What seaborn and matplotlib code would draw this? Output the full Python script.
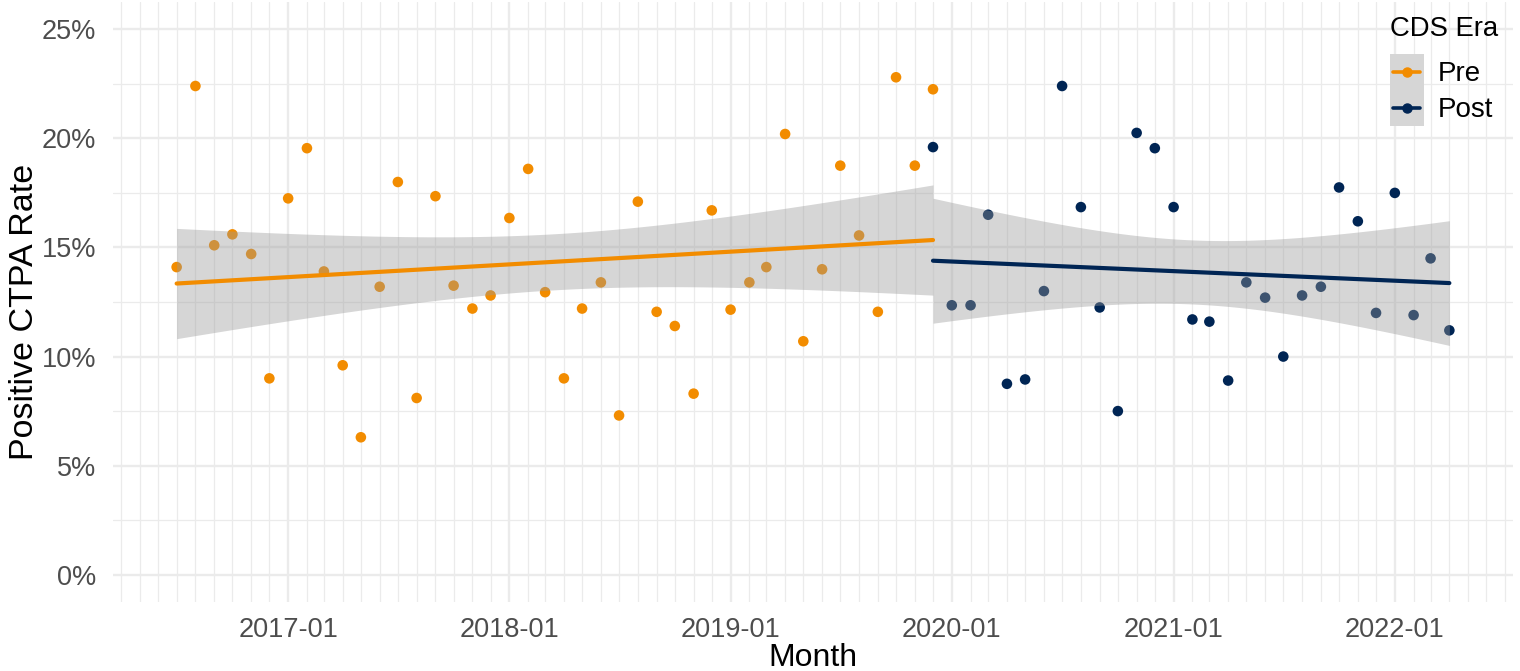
import numpy as np
import pandas as pd
import matplotlib
matplotlib.use("Agg")
import matplotlib.pyplot as plt
import matplotlib.dates as mdates
from matplotlib.patches import Rectangle
from matplotlib.lines import Line2D
from matplotlib.legend_handler import HandlerBase
from matplotlib.ticker import FuncFormatter, MultipleLocator
import seaborn as sns

# monthly positive CTPA rate (%)
pre_months = pd.date_range("2016-07-01", "2019-12-01", freq="MS")
pre_rate = [14.1, 22.4, 15.1, 15.6, 14.7, 9.0, 17.25, 19.55, 13.9, 9.6,
            6.3, 13.2, 18.0, 8.1, 17.35, 13.25, 12.2, 12.8, 16.35, 18.6,
            12.95, 9.0, 12.2, 13.4, 7.3, 17.1, 12.05, 11.4, 8.3, 16.7,
            12.15, 13.4, 14.1, 20.2, 10.7, 14.0, 18.75, 15.55, 12.05, 22.8,
            18.75, 22.25]
post_months = pd.date_range("2019-12-01", "2022-04-01", freq="MS")
post_rate = [19.6, 12.35, 12.35, 16.5, 8.75, 8.95, 13.0, 22.4, 16.85, 12.25,
             7.5, 20.25, 19.55, 16.85, 11.7, 11.6, 8.9, 13.4, 12.7, 10.0,
             12.8, 13.2, 17.75, 16.2, 12.0, 17.5, 11.9, 14.5, 11.2]

eras = ["Pre", "Post"]
era_colors = {"Pre": "#F28C00", "Post": "#002554"}
band_color = "#999999"

df = pd.concat([
    pd.DataFrame({"month": pre_months, "rate": pre_rate, "era": "Pre"}),
    pd.DataFrame({"month": post_months, "rate": post_rate, "era": "Post"}),
], ignore_index=True)
df["num"] = mdates.date2num(df["month"])


def t_crit(dof):
    try:
        from scipy.stats import t
        return t.ppf(0.975, dof)
    except ImportError:
        return {40: 2.021, 27: 2.052}.get(dof, 2.0)


def ols_band(x, y, grid):
    # 95% confidence band of a linear fit, like ggplot's geom_smooth(method="lm")
    n = len(x)
    b, a = np.polyfit(x, y, 1)
    resid = y - (a + b * x)
    s = np.sqrt(np.sum(resid ** 2) / (n - 2))
    se = s * np.sqrt(1 / n + (grid - x.mean()) ** 2 / np.sum((x - x.mean()) ** 2))
    fit = a + b * grid
    return fit - t_crit(n - 2) * se, fit + t_crit(n - 2) * se


class KeyHandler(HandlerBase):
    def create_artists(self, legend, orig_handle, xdescent, ydescent,
                       width, height, fontsize, trans):
        x0, y0 = -xdescent, -ydescent
        box = Rectangle((x0, y0), width, height, facecolor="#D6D6D6",
                        edgecolor="none", transform=trans)
        ym = y0 + height / 2
        line = Line2D([x0 + 0.11 * width, x0 + 0.89 * width], [ym, ym],
                      color=orig_handle.get_color(), lw=2.6, transform=trans)
        dot = Line2D([x0 + width / 2], [ym], color=orig_handle.get_color(),
                     marker="o", markersize=6.5, lw=0, transform=trans)
        return [box, line, dot]


sns.set_style("white")
plt.rcParams["font.family"] = ["Liberation Sans", "DejaVu Sans"]
plt.rcParams["text.color"] = "black"
plt.rcParams["axes.labelcolor"] = "black"

fig = plt.figure(figsize=(15.2, 6.71), dpi=100)
ax = fig.add_axes([113 / 1520, 1 - 602 / 671, 1400 / 1520, 600 / 671])

# points first so the confidence bands sit on top of them
for era in eras:
    sub = df[df["era"] == era]
    sns.scatterplot(data=sub, x="num", y="rate", color=era_colors[era], s=58,
                    edgecolor="none", legend=False, ax=ax)

for era in eras:
    sub = df[df["era"] == era]
    grid = np.linspace(sub["num"].min(), sub["num"].max(), 200)
    lo, hi = ols_band(sub["num"].to_numpy(), sub["rate"].to_numpy(), grid)
    ax.fill_between(grid, lo, hi, color=band_color, alpha=0.4, lw=0)
    sns.regplot(data=sub, x="num", y="rate", scatter=False, ci=None,
                color=era_colors[era], line_kws={"linewidth": 3.0}, ax=ax)

span = df["num"].max() - df["num"].min()
ax.set_xlim(df["num"].min() - 0.05 * span, df["num"].max() + 0.05 * span)
ax.set_ylim(-1.25, 26.25)

ax.xaxis.set_major_locator(mdates.YearLocator())
ax.xaxis.set_minor_locator(mdates.MonthLocator())
ax.xaxis.set_major_formatter(mdates.DateFormatter("%Y-%m"))
ax.yaxis.set_major_locator(MultipleLocator(5))
ax.yaxis.set_minor_locator(MultipleLocator(2.5))
ax.yaxis.set_major_formatter(FuncFormatter(lambda v, p: f"{v:.0f}%"))

ax.set_axisbelow(True)
ax.grid(which="major", color="#EBEBEB", lw=1.7)
ax.grid(which="minor", color="#EBEBEB", lw=0.9)
for s in ax.spines.values():
    s.set_visible(False)
ax.tick_params(which="both", length=0, labelsize=19.5, labelcolor="#4D4D4D")
ax.tick_params(axis="x", pad=11)
ax.tick_params(axis="y", pad=12)

ax.set_xlabel("Month", fontsize=23, labelpad=0)
ax.set_ylabel("Positive CTPA Rate", fontsize=24.5)
ax.yaxis.set_label_coords(-0.052, 0.483)

handles = [Line2D([], [], color=era_colors[era]) for era in eras]
leg = ax.legend(handles, eras, title="CDS Era", loc="upper left",
                bbox_to_anchor=(1377 / 1520, 1 - 4 / 671),
                bbox_transform=fig.transFigure, frameon=False,
                fontsize=20, title_fontsize=19.8, borderpad=0.45,
                borderaxespad=0, labelspacing=0, handlelength=1.25,
                handleheight=1.615, handletextpad=0.5, alignment="left",
                labelcolor="black",
                handler_map={Line2D: KeyHandler()})
leg.get_title().set_color("black")
leg._legend_box.sep = 8  # gap between title and keys

fig.savefig("out.png", dpi=100)
